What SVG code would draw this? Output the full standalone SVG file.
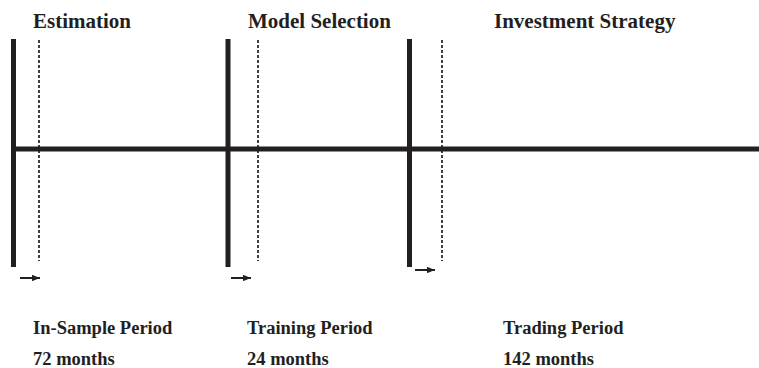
<svg xmlns="http://www.w3.org/2000/svg" width="759" height="368" viewBox="0 0 759 368">
  <defs>
    <style>
      .lbl { font-family: "Liberation Serif", "Times New Roman", serif; font-weight: bold; fill: #231f20; }
      .top { font-size: 21px; }
      .bot { font-size: 18.5px; }
      .solid { stroke: #231f20; stroke-width: 5; fill: none; }
      .dash { stroke: #231f20; stroke-width: 1.7; stroke-dasharray: 3 2; fill: none; }
      .arr { stroke: #231f20; stroke-width: 2; fill: none; marker-end: url(#ah); }
    </style>
    <marker id="ah" viewBox="0 0 10 8" refX="10" refY="4" markerWidth="4" markerHeight="3.2" markerUnits="strokeWidth" orient="auto">
      <path d="M0,0 L10,4 L0,8 z" fill="#231f20"/>
    </marker>
  </defs>
  <rect width="759" height="368" fill="#ffffff"/>

  <g id="timeline">
    <line class="solid" x1="11" y1="149" x2="759" y2="149"/>
  </g>

  <g id="estimation">
    <line class="solid" x1="13.5" y1="39" x2="13.5" y2="267"/>
    <line class="dash" x1="39" y1="40" x2="39" y2="261"/>
    <text class="lbl top" x="33" y="27.5">Estimation</text>
    <text class="lbl bot" x="33" y="333.5">In-Sample Period</text>
    <text class="lbl bot" x="33" y="364.5">72 months</text>
  </g>

  <g id="model-selection">
    <line class="solid" x1="228" y1="39" x2="228" y2="267"/>
    <line class="dash" x1="258" y1="40" x2="258" y2="261"/>
    <text class="lbl top" x="248" y="27.5">Model Selection</text>
    <text class="lbl bot" x="247" y="333.5">Training Period</text>
    <text class="lbl bot" x="247" y="364.5">24 months</text>
  </g>

  <g id="investment-strategy">
    <line class="solid" x1="409.5" y1="39" x2="409.5" y2="267"/>
    <line class="dash" x1="442" y1="40" x2="442" y2="261"/>
    <text class="lbl top" x="494" y="27.5">Investment Strategy</text>
    <text class="lbl bot" x="503" y="333.5">Trading Period</text>
    <text class="lbl bot" x="503" y="364.5">142 months</text>
  </g>

  <g id="connectors">
    <line class="arr" x1="20" y1="278" x2="40" y2="278"/>
    <line class="arr" x1="231" y1="278" x2="251" y2="278"/>
    <line class="arr" x1="415" y1="270" x2="435" y2="270"/>
  </g>
</svg>
